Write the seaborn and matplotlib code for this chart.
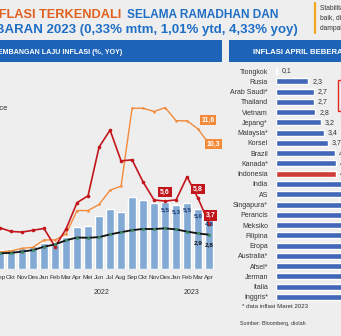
import matplotlib
matplotlib.use("Agg")
import matplotlib.pyplot as plt
import matplotlib.patches as mpatches
import seaborn as sns
import numpy as np
import pandas as pd

# ---------------- data ----------------
months = ["Sep", "Okt", "Nov", "Des", "Jan", "Feb", "Mar", "Apr", "Mei", "Jun",
          "Jul", "Aug", "Sep", "Okt", "Nov", "Des", "Jan", "Feb", "Mar", "Apr"]
headline = [1.60, 1.66, 1.75, 1.87, 2.18, 2.06, 2.64, 3.47, 3.55, 4.35,
            4.94, 4.69, 5.95, 5.71, 5.42, 5.51, 5.28, 5.47, 4.97, 4.33]
core = [1.30, 1.33, 1.44, 1.56, 1.84, 2.03, 2.37, 2.60, 2.58, 2.63,
        2.86, 3.04, 3.21, 3.31, 3.30, 3.36, 3.27, 3.09, 2.94, 2.83]
volatile_food = [3.40, 3.10, 3.05, 3.20, 3.35, 1.84, 3.30, 5.48, 6.05, 10.07,
                 11.47, 8.93, 9.02, 7.19, 5.70, 5.61, 5.71, 7.62, 5.83, 3.74]
administered = [1.40, 1.50, 1.70, 1.80, 2.40, 2.40, 2.90, 4.83, 4.83, 5.33,
                6.51, 6.84, 13.28, 13.28, 13.01, 13.34, 12.25, 12.24, 11.56, 10.32]
years = ["2022", "2023"]

countries = ["Tiongkok", "Rusia", "Arab Saudi*", "Thailand", "Vietnam", "Jepang*",
             "Malaysia*", "Korsel", "Brazil", "Kanada*", "Indonesia", "India", "AS",
             "Singapura*", "Perancis", "Meksiko", "Filipina", "Eropa", "Australia*",
             "Afsel*", "Jerman", "Italia", "Inggris*"]
country_infl = [0.1, 2.3, 2.7, 2.7, 2.8, 3.2, 3.4, 3.7, 4.2, 4.3, 4.3, 4.7, 4.9,
                5.5, 5.9, 6.3, 6.6, 7.0, 7.0, 7.1, 7.2, 8.3, 10.1]

W, H = 341, 336
BG = "#EEEEEE"
BAR_BLUE = "#74A9E3"
RED = "#C3161C"
ORANGE = "#F28A3A"
HEAD_BLUE = "#1D63B8"
T_ORANGE = "#E0611F"
T_BLUE = "#1F6FC6"
NAVY = "#1B3A6E"
C_BLUE = "#2F5FCC"
C_RED = "#E8241E"

sns.set_style("white")
plt.rcParams["font.family"] = ["Liberation Sans", "DejaVu Sans"]

fig = plt.figure(figsize=(W / 100, H / 100), dpi=100)
fig.patch.set_facecolor(BG)


def fx(x):
    return x / W


def fy(y):
    return 1 - y / H


def axes_px(x0, y0, x1, y1):
    return [fx(x0), fy(y1), (x1 - x0) / W, (y1 - y0) / H]


# ---------------- title ----------------
fig.text(fx(121), fy(18.5), "INFLASI TERKENDALI", color=T_ORANGE, fontsize=9.2,
         fontweight="bold", ha="right", va="baseline")
fig.text(fx(127), fy(18.5), "SELAMA RAMADHAN DAN", color=T_BLUE, fontsize=8.6,
         fontweight="bold", ha="left", va="baseline")
fig.text(fx(298), fy(33.5), "LEBARAN 2023 (0,33% mtm, 1,01% ytd, 4,33% yoy)", color=T_BLUE,
         fontsize=9.55, fontweight="bold", ha="right", va="baseline")

# top-right note box
fig.add_artist(plt.Line2D([fx(315), fx(315)], [fy(3), fy(33)], color="#F2A51E", lw=1.6))
for yy, t in [(9, "Stabilitas harga tetap terjaga"), (19, "baik, didukung oleh"),
              (29, "dampak kebijakan")]:
    fig.text(fx(320), fy(yy), t, fontsize=4.8, color="#333333", ha="left", va="center")

# ---------------- header bars ----------------
fig.add_artist(mpatches.Rectangle((fx(0), fy(62)), fx(222), (62 - 40) / H,
                                  transform=fig.transFigure, color=HEAD_BLUE, lw=0))
fig.add_artist(mpatches.Rectangle((fx(229), fy(62)), fx(120), (62 - 40) / H,
                                  transform=fig.transFigure, color=HEAD_BLUE, lw=0))
fig.text(fx(122), fy(53), "PERKEMBANGAN LAJU INFLASI (%, YOY)", color="white", fontsize=5.1,
         fontweight="bold", ha="right", va="center")
fig.text(fx(253), fy(53), "INFLASI APRIL BEBERAPA NEGARA", color="white", fontsize=5.6,
         fontweight="bold", ha="left", va="center")

# ---------------- left chart ----------------
ax = fig.add_axes(axes_px(0, 62, 222, 269))
ax.set_facecolor("none")
idx = np.arange(len(months))
df = pd.DataFrame({"i": idx, "headline": headline, "core": core,
                   "vf": volatile_food, "adm": administered})

sns.barplot(data=df, x="i", y="headline", native_scale=True, width=0.68,
            color=BAR_BLUE, errorbar=None, ax=ax, zorder=1)
sns.lineplot(data=df, x="i", y="adm", color=ORANGE, lw=1.0, marker="o", markersize=1.8,
             markeredgewidth=0, ax=ax, zorder=3)
sns.lineplot(data=df, x="i", y="vf", color=RED, lw=1.2, marker="o", markersize=2.6,
             markeredgewidth=0, ax=ax, zorder=4)
sns.lineplot(data=df, x="i", y="core", color="#111111", lw=1.3, marker="o", markersize=2.2,
             markerfacecolor="#3C8A5E", markeredgewidth=0, ax=ax, zorder=5)

ax.set_xlim(0.33, 20.17)
ax.set_ylim(0, 17.1)
ax.set_xticks(idx)
ax.set_xticklabels(months, fontsize=4.6, color="#333333")
ax.tick_params(axis="x", length=0, pad=4)
ax.set_yticks([])
ax.set_xlabel("")
ax.set_ylabel("")
for s in ax.spines.values():
    s.set_visible(False)

fig.text(fx(102), fy(292), years[0], fontsize=5.0, color="#333333", ha="center", va="center")
fig.text(fx(192), fy(292), years[1], fontsize=5.0, color="#333333", ha="center", va="center")
fig.text(fx(8), fy(108), "Administered Price", fontsize=5.6, color="#333333",
         ha="right", va="center")


def fmt(v):
    return f"{v:.1f}".replace(".", ",")


box_kw = dict(boxstyle="square,pad=0.25", lw=0)
# volatile food boxes
for i, dx, dy in [(15, 0, 9), (18, 0, 9.5), (19, 1.5, 8)]:
    ax.annotate(fmt(volatile_food[i]), (i, volatile_food[i]), xytext=(dx * 0.72, dy * 0.72),
                textcoords="offset points", ha="center", va="center", fontsize=5.0,
                fontweight="bold", color="white", zorder=8,
                bbox=dict(fc=RED, **box_kw))
# administered boxes
ax.annotate(fmt(administered[18]), (18, administered[18]), xytext=(10 * 0.72, 9 * 0.72),
            textcoords="offset points", ha="center", va="center", fontsize=5.0,
            fontweight="bold", color="white", zorder=8, bbox=dict(fc=ORANGE, **box_kw))
ax.annotate(fmt(administered[19]), (19, administered[19]), xytext=(4 * 0.72, 0),
            textcoords="offset points", ha="center", va="center", fontsize=5.0,
            fontweight="bold", color="white", zorder=8, bbox=dict(fc=ORANGE, **box_kw))
# headline labels
for i in [15, 16, 17, 18, 19]:
    ax.annotate(fmt(headline[i]), (i, headline[i]), xytext=(0, -7 * 0.72),
                textcoords="offset points", ha="center", va="center", fontsize=4.6,
                fontweight="bold", color=NAVY, zorder=6)
# core labels
for i in [18, 19]:
    ax.annotate(fmt(core[i]), (i, core[i]), xytext=(0, -9.5 * 0.72),
                textcoords="offset points", ha="center", va="center", fontsize=4.6,
                fontweight="bold", color="#111111", zorder=6)

# ---------------- right chart ----------------
ax2 = fig.add_axes(axes_px(276, 65.9, 444, 302.1))
ax2.set_facecolor("none")
cdf = pd.DataFrame({"country": countries, "val": country_infl})
pal = {c: (C_RED if c == "Indonesia" else C_BLUE) for c in countries}
sns.barplot(data=cdf, y="country", x="val", hue="country", palette=pal, legend=False,
            orient="h", width=0.58, errorbar=None, ax=ax2)
ax2.set_xlim(0, 12)
ax2.set_xticks([])
ax2.set_xlabel("")
ax2.set_ylabel("")
ax2.tick_params(axis="y", length=0, pad=5.8, labelsize=5.0, labelcolor="#333333")
for s in ax2.spines.values():
    s.set_visible(False)
for i, v in enumerate(country_infl):
    ax2.annotate(fmt(v), (v, i), xytext=(3, 0), textcoords="offset points",
                 ha="left", va="center", fontsize=5.0, color="#333333")

# red outline box (partially visible)
fig.add_artist(mpatches.Rectangle((fx(338), fy(111)), fx(30), (111 - 80) / H,
                                  transform=fig.transFigure, fill=False, ec=C_RED, lw=1.0))

fig.text(fx(242), fy(307), "* data inflasi Maret 2023", fontsize=4.4, color="#333333",
         ha="left", va="center")
fig.text(fx(240), fy(324), "Sumber: Bloomberg, diolah", fontsize=3.9, color="#333333",
         ha="left", va="center")

fig.savefig("out.png", dpi=100, facecolor=BG)
